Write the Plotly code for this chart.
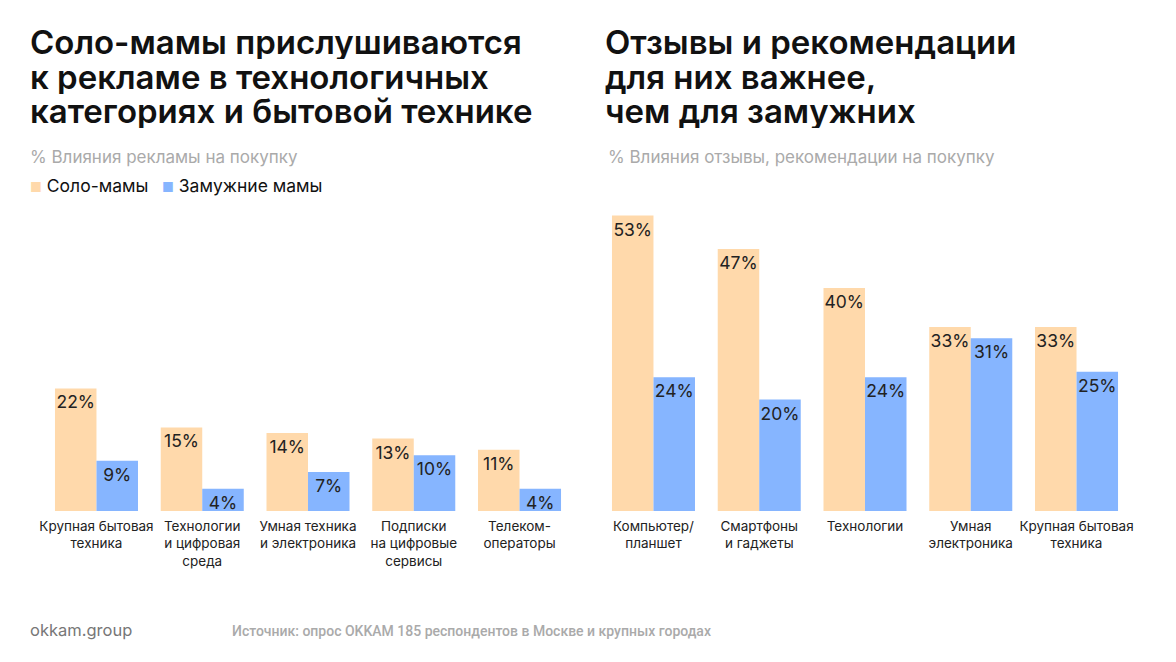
import plotly.graph_objects as go

# данные
ad_categories = [
    "Крупная бытовая<br>техника",
    "Технологии<br>и цифровая<br>среда",
    "Умная техника<br>и электроника",
    "Подписки<br>на цифровые<br>сервисы",
    "Телеком-<br>операторы",
]
ad_solo = [22, 15, 14, 13, 11]
ad_married = [9, 4, 7, 10, 4]

review_categories = [
    "Компьютер/<br>планшет",
    "Смартфоны<br>и гаджеты",
    "Технологии",
    "Умная<br>электроника",
    "Крупная бытовая<br>техника",
]
review_solo = [53, 47, 40, 33, 33]
review_married = [24, 20, 24, 31, 25]

series_names = ["Соло-мамы", "Замужние мамы"]

SOLO_COLOR = "#FFD9AB"
MARRIED_COLOR = "#86B5FF"
FONT = "Inter"
W, H = 1176, 662
OFFSET = 8  # отступ body на странице


def px_x(p):
    return (p - OFFSET) / W


def px_y(p):
    return 1 - (p - OFFSET) / H


def bar(x, y, name, color, xaxis, yaxis):
    return go.Bar(
        x=x, y=y, name=name,
        marker=dict(color=color, line=dict(width=0)),
        text=[f"{v}%" for v in y],
        textposition="inside",
        insidetextanchor="end",
        textangle=0,
        constraintext="none",
        textfont=dict(family=FONT, size=17.5, color="#222222"),
        xaxis=xaxis, yaxis=yaxis,
        showlegend=False,
        hoverinfo="skip",
    )


fig = go.Figure()
fig.add_trace(bar(ad_categories, ad_solo, series_names[0], SOLO_COLOR, "x", "y"))
fig.add_trace(bar(ad_categories, ad_married, series_names[1], MARRIED_COLOR, "x", "y"))
fig.add_trace(bar(review_categories, review_solo, series_names[0], SOLO_COLOR, "x2", "y2"))
fig.add_trace(bar(review_categories, review_married, series_names[1], MARRIED_COLOR, "x2", "y2"))

y_max = 55.8
axis_x = dict(showgrid=False, zeroline=False, showline=False, ticks="",
              tickangle=0, automargin=False, ticklabelstandoff=5,
              tickfont=dict(family=FONT, size=13.5, color="#222222"))
axis_y = dict(range=[0, y_max], visible=False, fixedrange=True, automargin=False)

fig.update_layout(
    width=W, height=H,
    margin=dict(l=0, r=0, t=0, b=0, autoexpand=False),
    paper_bgcolor="white", plot_bgcolor="white",
    barmode="group", bargap=0.215, bargroupgap=0,
    font=dict(family=FONT, color="#222222"),
    showlegend=False,
    xaxis=dict(axis_x, domain=[px_x(43.6), px_x(572.4)], anchor="y"),
    yaxis=dict(axis_y, domain=[px_y(511), px_y(200)], anchor="x"),
    xaxis2=dict(axis_x, domain=[px_x(600.6), px_x(1129.4)], anchor="y2"),
    yaxis2=dict(axis_y, domain=[px_y(511), px_y(200)], anchor="x2"),
)

# заголовки, по строкам
titles = [
    (28, ["Соло-мамы прислушиваются", "к рекламе в технологичных", "категориях и бытовой технике"]),
    (603, ["Отзывы и рекомендации", "для них важнее,", "чем для замужних"]),
]
for x0, lines in titles:
    for i, line in enumerate(lines):
        fig.add_annotation(
            x=px_x(x0), y=px_y(42 + i * 34.5), xref="paper", yref="paper",
            xanchor="left", yanchor="middle", align="left", valign="middle",
            height=34, showarrow=False,
            text=line,
            font=dict(family=FONT, size=33, color="#111111", weight=600),
        )

subtitles = [
    (28, "% Влияния рекламы на покупку"),
    (606, "% Влияния отзывы, рекомендации на покупку"),
]
for x0, text in subtitles:
    fig.add_annotation(
        x=px_x(x0), y=px_y(157), xref="paper", yref="paper",
        xanchor="left", yanchor="middle", align="left", showarrow=False,
        text=text, font=dict(family=FONT, size=17, color="#AAAAAA"),
    )

# легенда
legend_items = [(28, SOLO_COLOR, series_names[0]), (160, MARRIED_COLOR, series_names[1])]
for x0, color, name in legend_items:
    fig.add_annotation(
        x=px_x(x0), y=px_y(185), xref="paper", yref="paper",
        xanchor="left", yanchor="middle", align="left", showarrow=False,
        text=f"<span style='color:{color};font-size:13px'>■</span> {name}",
        font=dict(family=FONT, size=17.5, color="#111111"),
    )

fig.add_annotation(
    x=px_x(28), y=px_y(630), xref="paper", yref="paper",
    xanchor="left", yanchor="middle", showarrow=False,
    text="okkam.group", font=dict(family=FONT, size=16.5, color="#777777"),
)
fig.add_annotation(
    x=px_x(230), y=px_y(631), xref="paper", yref="paper",
    xanchor="left", yanchor="middle", showarrow=False,
    text="Источник: опрос OKKAM 185 респондентов в Москве и крупных городах",
    font=dict(family="Roboto", size=14, color="#AAAAAA", weight=500),
)

fig.write_html("out.html")
